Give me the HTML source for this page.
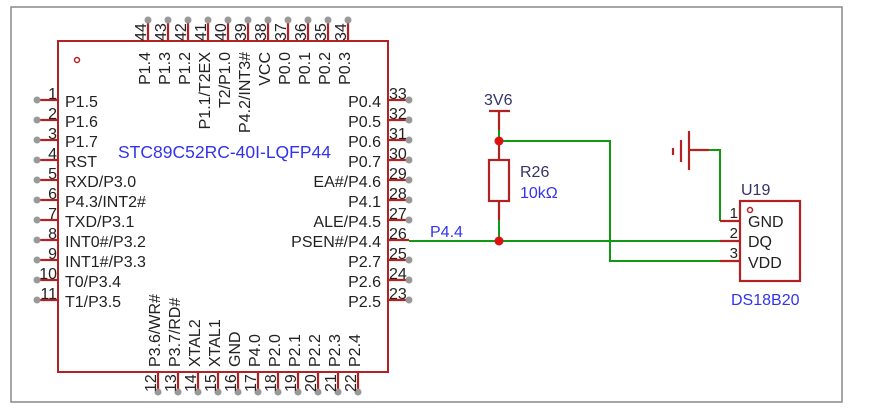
<!DOCTYPE html>
<html><head><meta charset="utf-8"><style>body{margin:0;background:#fff}svg{display:block}text{font-family:"Liberation Sans",sans-serif}</style></head><body>
<svg width="876" height="420" xmlns="http://www.w3.org/2000/svg">
<rect x="11" y="7" width="831" height="395" fill="none" stroke="#888" stroke-width="1.5"/>
<rect x="58" y="41" width="330" height="331" fill="none" stroke="#b22222" stroke-width="2"/>
<circle cx="77" cy="60" r="2.5" fill="none" stroke="#b22222" stroke-width="1.5"/>
<g stroke="#b22222" stroke-width="2.2">
<path d="M37 100H58M37 120H58M37 140H58M37 160H58M37 180H58M37 200H58M37 220H58M37 240H58M37 260H58M37 280H58M37 300H58"/>
<path d="M388 100H409M388 120H409M388 140H409M388 160H409M388 180H409M388 200H409M388 220H409M388 240H409M388 260H409M388 280H409M388 300H409"/>
<path d="M148 20V41M168 20V41M188 20V41M208 20V41M228 20V41M248 20V41M268 20V41M288 20V41M308 20V41M328 20V41M348 20V41"/>
<path d="M158 372V392M178 372V392M198 372V392M218 372V392M238 372V392M258 372V392M278 372V392M298 372V392M318 372V392M338 372V392M358 372V392"/>
</g>
<g fill="#999">
<circle cx="37" cy="100" r="3.5"/><circle cx="37" cy="120" r="3.5"/><circle cx="37" cy="140" r="3.5"/><circle cx="37" cy="160" r="3.5"/><circle cx="37" cy="180" r="3.5"/><circle cx="37" cy="200" r="3.5"/><circle cx="37" cy="220" r="3.5"/><circle cx="37" cy="240" r="3.5"/><circle cx="37" cy="260" r="3.5"/><circle cx="37" cy="280" r="3.5"/><circle cx="37" cy="300" r="3.5"/>
<circle cx="409" cy="100" r="3.5"/><circle cx="409" cy="120" r="3.5"/><circle cx="409" cy="140" r="3.5"/><circle cx="409" cy="160" r="3.5"/><circle cx="409" cy="180" r="3.5"/><circle cx="409" cy="200" r="3.5"/><circle cx="409" cy="220" r="3.5"/><circle cx="409" cy="260" r="3.5"/><circle cx="409" cy="280" r="3.5"/><circle cx="409" cy="300" r="3.5"/>
<circle cx="148" cy="20" r="3.5"/><circle cx="168" cy="20" r="3.5"/><circle cx="188" cy="20" r="3.5"/><circle cx="208" cy="20" r="3.5"/><circle cx="228" cy="20" r="3.5"/><circle cx="248" cy="20" r="3.5"/><circle cx="268" cy="20" r="3.5"/><circle cx="288" cy="20" r="3.5"/><circle cx="308" cy="20" r="3.5"/><circle cx="328" cy="20" r="3.5"/><circle cx="348" cy="20" r="3.5"/>
<circle cx="158" cy="392" r="3.5"/><circle cx="178" cy="392" r="3.5"/><circle cx="198" cy="392" r="3.5"/><circle cx="218" cy="392" r="3.5"/><circle cx="238" cy="392" r="3.5"/><circle cx="258" cy="392" r="3.5"/><circle cx="278" cy="392" r="3.5"/><circle cx="298" cy="392" r="3.5"/><circle cx="318" cy="392" r="3.5"/><circle cx="338" cy="392" r="3.5"/><circle cx="358" cy="392" r="3.5"/>
</g>
<g font-size="16" fill="#222">
<g text-anchor="end"><text x="57" y="99">1</text><text x="57" y="119">2</text><text x="57" y="139">3</text><text x="57" y="159">4</text><text x="57" y="179">5</text><text x="57" y="199">6</text><text x="57" y="219">7</text><text x="57" y="239">8</text><text x="57" y="259">9</text><text x="57" y="279">10</text><text x="57" y="299">11</text></g>
<g><text x="389" y="99">33</text><text x="389" y="119">32</text><text x="389" y="139">31</text><text x="389" y="159">30</text><text x="389" y="179">29</text><text x="389" y="199">28</text><text x="389" y="219">27</text><text x="389" y="239">26</text><text x="389" y="259">25</text><text x="389" y="279">24</text><text x="389" y="299">23</text></g>
<g>
<text transform="translate(146,41) rotate(-90)">44</text><text transform="translate(166,41) rotate(-90)">43</text><text transform="translate(186,41) rotate(-90)">42</text><text transform="translate(206,41) rotate(-90)">41</text><text transform="translate(226,41) rotate(-90)">40</text><text transform="translate(246,41) rotate(-90)">39</text><text transform="translate(266,41) rotate(-90)">38</text><text transform="translate(286,41) rotate(-90)">37</text><text transform="translate(306,41) rotate(-90)">36</text><text transform="translate(326,41) rotate(-90)">35</text><text transform="translate(346,41) rotate(-90)">34</text>
</g>
<g>
<text transform="translate(156,392) rotate(-90)">12</text><text transform="translate(176,392) rotate(-90)">13</text><text transform="translate(196,392) rotate(-90)">14</text><text transform="translate(216,392) rotate(-90)">15</text><text transform="translate(236,392) rotate(-90)">16</text><text transform="translate(256,392) rotate(-90)">17</text><text transform="translate(276,392) rotate(-90)">18</text><text transform="translate(296,392) rotate(-90)">19</text><text transform="translate(316,392) rotate(-90)">20</text><text transform="translate(336,392) rotate(-90)">21</text><text transform="translate(356,392) rotate(-90)">22</text>
</g>
<g><text x="65" y="107">P1.5</text><text x="65" y="127">P1.6</text><text x="65" y="147">P1.7</text><text x="65" y="167">RST</text><text x="65" y="187">RXD/P3.0</text><text x="65" y="207">P4.3/INT2#</text><text x="65" y="227">TXD/P3.1</text><text x="65" y="247">INT0#/P3.2</text><text x="65" y="267">INT1#/P3.3</text><text x="65" y="287">T0/P3.4</text><text x="65" y="307">T1/P3.5</text></g>
<g text-anchor="end"><text x="381" y="107">P0.4</text><text x="381" y="127">P0.5</text><text x="381" y="147">P0.6</text><text x="381" y="167">P0.7</text><text x="381" y="187">EA#/P4.6</text><text x="381" y="207">P4.1</text><text x="381" y="227">ALE/P4.5</text><text x="381" y="247">PSEN#/P4.4</text><text x="381" y="267">P2.7</text><text x="381" y="287">P2.6</text><text x="381" y="307">P2.5</text></g>
<g text-anchor="end">
<text transform="translate(150,52) rotate(-90)">P1.4</text><text transform="translate(170,52) rotate(-90)">P1.3</text><text transform="translate(190,52) rotate(-90)">P1.2</text><text transform="translate(210,52) rotate(-90)">P1.1/T2EX</text><text transform="translate(230,52) rotate(-90)">T2/P1.0</text><text transform="translate(250,52) rotate(-90)">P4.2/INT3#</text><text transform="translate(270,52) rotate(-90)">VCC</text><text transform="translate(290,52) rotate(-90)">P0.0</text><text transform="translate(310,52) rotate(-90)">P0.1</text><text transform="translate(330,52) rotate(-90)">P0.2</text><text transform="translate(350,52) rotate(-90)">P0.3</text>
</g>
<g>
<text transform="translate(160,367) rotate(-90)">P3.6/WR#</text><text transform="translate(180,367) rotate(-90)">P3.7/RD#</text><text transform="translate(200,367) rotate(-90)">XTAL2</text><text transform="translate(220,367) rotate(-90)">XTAL1</text><text transform="translate(240,367) rotate(-90)">GND</text><text transform="translate(260,367) rotate(-90)">P4.0</text><text transform="translate(280,367) rotate(-90)">P2.0</text><text transform="translate(300,367) rotate(-90)">P2.1</text><text transform="translate(320,367) rotate(-90)">P2.2</text><text transform="translate(340,367) rotate(-90)">P2.3</text><text transform="translate(360,367) rotate(-90)">P2.4</text>
</g>
<text x="118" y="158" fill="#3333ee" font-size="17.5">STC89C52RC-40I-LQFP44</text>
<text x="430" y="237" fill="#3333ee">P4.4</text>
<text x="484" y="105" fill="#333366">3V6</text>
<text x="520" y="177" fill="#333366">R26</text>
<text x="520" y="198" fill="#3333ee">10kΩ</text>
<text x="741" y="195" fill="#333366">U19</text>
<text x="731" y="305" fill="#3333ee">DS18B20</text>
<text x="748" y="227">GND</text><text x="748" y="247">DQ</text><text x="748" y="268">VDD</text>
<text x="738" y="218" text-anchor="end" font-size="15">1</text><text x="738" y="238" text-anchor="end" font-size="15">2</text><text x="738" y="258" text-anchor="end" font-size="15">3</text>
</g>
<g fill="none" stroke="#119911" stroke-width="2">
<path d="M409 241H720"/><path d="M499 141H610V261H720"/><path d="M499 130V141M499 201V241"/><path d="M709 150H720V221"/>
</g>
<g fill="none" stroke="#b22222" stroke-width="2.2">
<path d="M489 111H510M499 111V130M499 141V160M499 201V220"/>
<rect x="489" y="160" width="20" height="41"/>
<path d="M689 150H709M689 131V170M681 140V162M673 148V155"/>
<path d="M720 221H740M720 241H740M720 261H740"/>
<rect x="740" y="201" width="60" height="80"/>
<circle cx="750" cy="210" r="2.5" stroke-width="1.5"/>
</g>
<g fill="#dd1111"><circle cx="499" cy="141" r="4.5"/><circle cx="499" cy="241" r="4.5"/></g>
</svg>
</body></html>
